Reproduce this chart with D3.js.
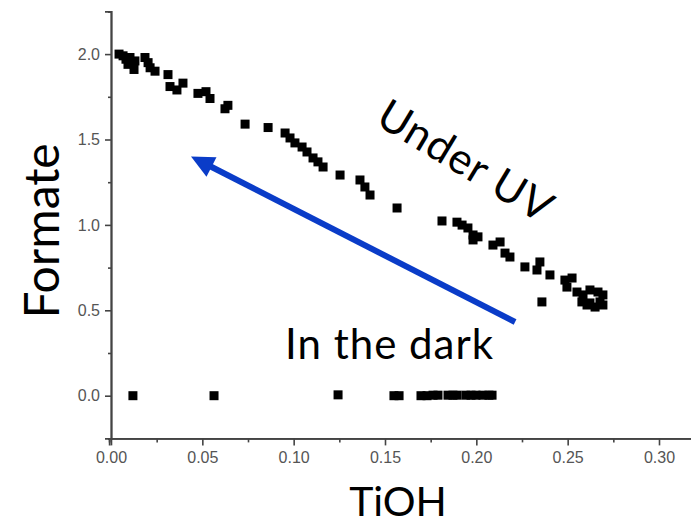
<html>
<head>
  <meta charset="utf-8" />
  <script src="https://cdnjs.cloudflare.com/ajax/libs/d3/7.8.5/d3.min.js"></script>
  <style>
    body { margin: 0; background: #fff; }
    .tick-label { font-family: "Liberation Sans", Arial, sans-serif; font-size: 16px; fill: #555; }
    .note { font-family: Lato, "Open Sans", sans-serif; fill: #000; }
  </style>
</head>
<body>
  <svg></svg>
<script>

// "Under UV" series
var uvX = [0.0044, 0.0066, 0.0082, 0.0104, 0.0093, 0.0126, 0.0131, 0.0186, 0.0203, 0.0214,
           0.0241, 0.0312, 0.0323, 0.0361, 0.0394, 0.0476, 0.0520, 0.0542, 0.0624, 0.0640,
           0.0734, 0.0860, 0.0953, 0.0980, 0.1007, 0.1046, 0.1073, 0.1106, 0.1133, 0.1161,
           0.1254, 0.1363, 0.1390, 0.1418, 0.1566, 0.1812, 0.1894, 0.1922, 0.1954, 0.1982,
           0.2009, 0.1982, 0.2091, 0.2130, 0.2157, 0.2184, 0.2266, 0.2332, 0.2348, 0.2403,
           0.2359, 0.2485, 0.2524, 0.2496, 0.2551, 0.2584, 0.2622, 0.2666, 0.2693, 0.2578,
           0.2622, 0.2677, 0.2693, 0.2650, 0.2606]
var uvY = [2.00, 1.99, 1.97, 1.98, 1.94, 1.91, 1.96, 1.98, 1.95, 1.92,
           1.90, 1.88, 1.81, 1.79, 1.83, 1.77, 1.78, 1.74, 1.68, 1.70,
           1.59, 1.57, 1.538, 1.509, 1.48, 1.456, 1.427, 1.392, 1.369, 1.339,
           1.292, 1.263, 1.222, 1.175, 1.099, 1.023, 1.016, 0.999, 0.982, 0.941,
           0.930, 0.912, 0.882, 0.900, 0.835, 0.812, 0.754, 0.736, 0.783, 0.707,
           0.549, 0.677, 0.689, 0.636, 0.607, 0.590, 0.619, 0.607, 0.590, 0.549,
           0.543, 0.549, 0.531, 0.519, 0.531]

// "In the dark" series
var darkX = [0.0120, 0.0564, 0.1243, 0.1549, 0.1577, 0.1697, 0.1730, 0.1763, 0.1790,
             0.1845, 0.1872, 0.1894, 0.1943, 0.1971, 0.1998, 0.2036, 0.2069, 0.2086]
var darkY = [0.000, 0.000, 0.005, 0.000, 0.000, 0.000, 0.000, 0.003, 0.003,
             0.003, 0.003, 0.003, 0.003, 0.003, 0.003, 0.003, 0.003, 0.003]

var xMajor = [0, 0.05, 0.10, 0.15, 0.20, 0.25, 0.30]
var xMinor = [0.025, 0.075, 0.125, 0.175, 0.225, 0.275]
var yMajor = [0, 0.5, 1.0, 1.5, 2.0]
var yMinor = [-0.25, 0.25, 0.75, 1.25, 1.75, 2.25]

// arrow from the dark points up toward the UV line (data coords)
var arrowFrom = [0.2212, 0.4315]
var arrowTo = [0.0438, 1.4005]

var svg = d3.select("svg").attr("width", 691).attr("height", 525)

var xScale = d3.scaleLinear().domain([0, 0.30]).range([111, 659])
var yScale = d3.scaleLinear().domain([-0.25, 2.25]).range([438.4, 11.4])

// y axis
var yAxis = d3.axisLeft(yScale).tickValues(yMajor).tickSize(6).tickPadding(5)
  .tickFormat(d3.format(".1f"))
var yAxisMinor = d3.axisLeft(yScale).tickValues(yMinor).tickSize(3).tickFormat("")

svg.append("g").attr("transform", "translate(111,0)").call(yAxisMinor)
svg.append("g").attr("transform", "translate(111,0)").call(yAxis)

// x axis, runs off the right edge like the source image
var xLong = d3.scaleLinear().domain([-0.001, 0.32]).range([xScale(-0.001), xScale(0.32)])
var xAxis = d3.axisBottom(xLong).tickValues(xMajor).tickSize(7).tickPadding(6)
  .tickFormat(d3.format(".2f"))
var xAxisMinor = d3.axisBottom(xLong).tickValues(xMinor).tickSize(4).tickFormat("")

svg.append("g").attr("transform", "translate(0,438.4)").call(xAxisMinor)
svg.append("g").attr("transform", "translate(0,438.4)").call(xAxis)

svg.selectAll(".domain").attr("stroke", "#444").attr("stroke-width", 1.8)
svg.selectAll(".tick line").attr("stroke", "#444").attr("stroke-width", 1.6)
svg.selectAll(".tick text").attr("class", "tick-label").attr("fill", null)
svg.selectAll("g").attr("font-family", null).attr("font-size", null)

// points
var size = 9
var uvData = uvX.map((x, i) => ({ x: x, y: uvY[i] }))
var darkData = darkX.map((x, i) => ({ x: x, y: darkY[i] }))

svg.append("g").selectAll("rect")
  .data(uvData.concat(darkData))
  .enter().append("rect")
    .attr("x", d => xScale(d.x) - size / 2)
    .attr("y", d => yScale(d.y) - size / 2)
    .attr("width", size)
    .attr("height", size)
    .attr("fill", "#000")

// arrow
var ax0 = xScale(arrowFrom[0]), ay0 = yScale(arrowFrom[1])
var ax1 = xScale(arrowTo[0]), ay1 = yScale(arrowTo[1])
var len = Math.hypot(ax1 - ax0, ay1 - ay0)
var ux = (ax1 - ax0) / len, uy = (ay1 - ay0) / len
var headLen = 23, headHalf = 11
var bx = ax1 - ux * headLen, by = ay1 - uy * headLen

svg.append("line")
  .attr("x1", ax0).attr("y1", ay0)
  .attr("x2", bx + ux * 2).attr("y2", by + uy * 2)
  .attr("stroke", "#0a3cc8")
  .attr("stroke-width", 6)

svg.append("path")
  .attr("d", "M" + ax1 + "," + ay1 +
             "L" + (bx - uy * headHalf) + "," + (by + ux * headHalf) +
             "L" + (bx + uy * headHalf) + "," + (by - ux * headHalf) + "Z")
  .attr("fill", "#0a3cc8")

// labels
svg.append("text")
  .attr("class", "note")
  .attr("transform", "translate(59,231) rotate(-90)")
  .attr("text-anchor", "middle")
  .style("font-size", "48px")
  .text("Formate")

svg.append("text")
  .attr("class", "note")
  .attr("x", 398).attr("y", 516)
  .attr("text-anchor", "middle")
  .style("font-size", "41px")
  .text("TiOH")

svg.append("text")
  .attr("class", "note")
  .attr("x", 285).attr("y", 359)
  .style("font-size", "42px")
  .style("letter-spacing", "1px")
  .text("In the dark")

svg.append("text")
  .attr("class", "note")
  .attr("transform", "translate(458,174) rotate(31)")
  .attr("text-anchor", "middle")
  .style("font-size", "43px")
  .style("letter-spacing", "1px")
  .text("Under UV")

</script>
</body>
</html>
